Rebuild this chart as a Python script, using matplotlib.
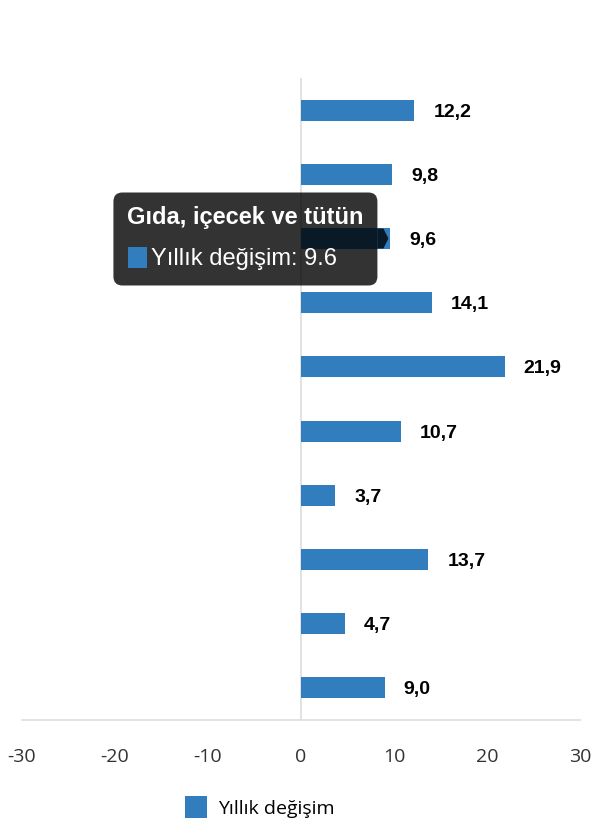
import matplotlib
matplotlib.use("Agg")
import matplotlib.pyplot as plt
from matplotlib.patches import FancyBboxPatch, Polygon, Rectangle

# values (top to bottom)
values = [12.2, 9.8, 9.6, 14.1, 21.9, 10.7, 3.7, 13.7, 4.7, 9.0]
series_name = "Yıllık değişim"
xticks = [-30, -20, -10, 0, 10, 20, 30]

# hovered bar shown in the tooltip
hover_index = 2
hover_category = "Gıda, içecek ve tütün"

bar_color = "#317dbd"
grid_color = "#dddddd"

fig = plt.figure(figsize=(6, 8.4), dpi=100)
ax = fig.add_axes([22 / 600, 120 / 840, 558 / 600, 642 / 840])

ypos = list(range(len(values)))
bars = ax.barh(ypos, values, height=0.33, color=bar_color, label=series_name, zorder=3)

ax.set_xlim(-30, 30)
ax.set_ylim(len(values) - 0.5, -0.5)
ax.set_xticks(xticks)
ax.set_xticklabels([str(t) for t in xticks], fontsize=14, color="#333333", family="Open Sans")
ax.set_yticks([])
ax.tick_params(axis="x", length=0, pad=20)
for s in ["top", "right", "left"]:
    ax.spines[s].set_visible(False)
ax.spines["bottom"].set_color(grid_color)
ax.spines["bottom"].set_linewidth(1.2)
ax.axvline(0, color=grid_color, lw=1.2, zorder=1)

# value labels
for y, v in zip(ypos, values):
    ax.annotate(f"{v:.1f}".replace(".", ","), (v, y), xytext=(19, -2),
                textcoords="offset pixels", va="center", ha="left",
                fontsize=14, fontweight="bold", family="Liberation Sans", color="black")

# legend
ax.legend(loc="center left", bbox_to_anchor=(185 / 600, 33 / 840),
          bbox_transform=fig.transFigure, frameon=False,
          prop={"family": "Open Sans", "size": 14}, handlelength=1.15,
          handleheight=1.3, handletextpad=0.55, borderpad=0, borderaxespad=0)

# tooltip (pixel coordinates, anchored at the hovered bar end)
fig.canvas.draw()
tip_x, tip_y = ax.transData.transform((values[hover_index] - 0.2, hover_index))
px = lambda x, y: (x / 100, y / 100)
tt = fig.dpi_scale_trans
box_l, box_r = tip_x - 275, tip_x - 11
box_b, box_t = tip_y - 47, tip_y + 46
fig.patches.append(FancyBboxPatch(px(box_l, box_b), (box_r - box_l) / 100, (box_t - box_b) / 100,
                                  boxstyle="round,pad=0,rounding_size=0.09",
                                  transform=tt, fc="black", ec="none", alpha=0.8, zorder=10))
fig.patches.append(Polygon([px(box_r, tip_y + 10), px(tip_x - 5, tip_y + 10), px(tip_x, tip_y),
                            px(tip_x - 5, tip_y - 10), px(box_r, tip_y - 10)],
                           closed=True, transform=tt, fc="black", ec="none", alpha=0.8, zorder=10))
fig.text(*px(box_l + 14, box_t - 25), hover_category, transform=tt, color="white",
         fontsize=17, fontweight="bold", family="Liberation Sans", va="center", ha="left", zorder=11)
fig.patches.append(Rectangle(px(box_l + 15, box_t - 75), 0.19, 0.20, transform=tt,
                             fc=bar_color, ec="none", zorder=11))
fig.text(*px(box_l + 38, box_t - 67), f"{series_name}: {values[hover_index]}", transform=tt,
         color="white", fontsize=17, family="Liberation Sans", va="center", ha="left", zorder=11)

fig.savefig("out.png", dpi=100)
